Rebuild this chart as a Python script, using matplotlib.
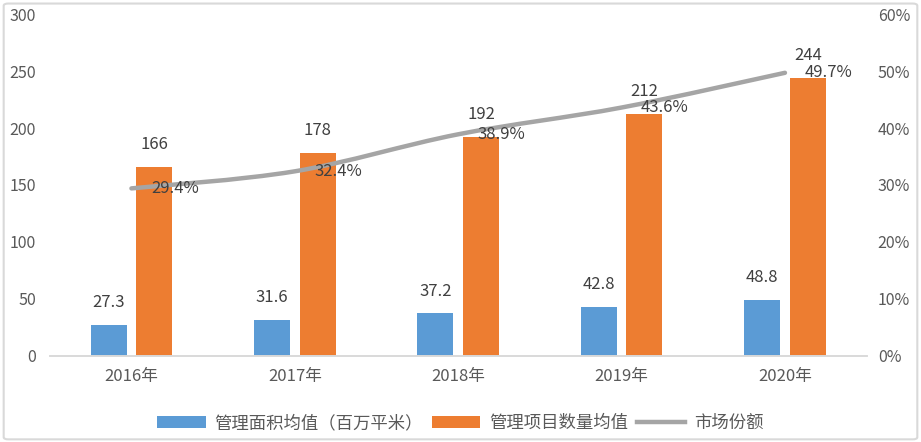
import matplotlib.pyplot as plt
from matplotlib.path import Path
from matplotlib.patches import PathPatch, FancyBboxPatch
import numpy as np

plt.rcParams['font.family'] = ['Noto Sans CJK SC', 'DejaVu Sans']

years = ['2016年', '2017年', '2018年', '2019年', '2020年']
area_avg = [27.3, 31.6, 37.2, 42.8, 48.8]
project_avg = [166, 178, 192, 212, 244]
market_share = [29.4, 32.4, 38.9, 43.6, 49.7]

BLUE = '#5B9BD5'
ORANGE = '#ED7D31'
GREY = '#A5A5A5'
TXT = '#595959'


def smooth_path(xs, ys):
    # Catmull-Rom style bezier, like Excel's smoothed line
    pts = np.column_stack([xs, ys]).astype(float)
    verts = [pts[0]]
    codes = [Path.MOVETO]
    n = len(pts)
    for i in range(n - 1):
        p0 = pts[max(i - 1, 0)]
        p1 = pts[i]
        p2 = pts[i + 1]
        p3 = pts[min(i + 2, n - 1)]
        c1 = p1 + (p2 - p0) / 6
        c2 = p2 - (p3 - p1) / 6
        verts += [c1, c2, p2]
        codes += [Path.CURVE4] * 3
    return Path(verts, codes)


fig = plt.figure(figsize=(9.21, 4.42), dpi=100)
ax = fig.add_axes([0.054, 0.195, 0.887, 0.773])
ax2 = ax.twinx()

x = np.arange(len(years))
w = 0.22
off = 0.14
b1 = ax.bar(x - off, area_avg, w, color=BLUE, label='管理面积均值（百万平米）')
b2 = ax.bar(x + off, project_avg, w, color=ORANGE, label='管理项目数量均值')

for xi, v in zip(x - off, area_avg):
    ax.annotate(f'{v}', (xi, v), xytext=(0, 10), textcoords='offset points',
                ha='center', va='bottom', fontsize=12, color='#404040')
for xi, v in zip(x + off, project_avg):
    ax.annotate(f'{v}', (xi, v), xytext=(0, 10), textcoords='offset points',
                ha='center', va='bottom', fontsize=12, color='#404040')

ax.set_xlim(-0.5, len(years) - 0.5)
ax.set_ylim(0, 300)
ax.set_yticks(range(0, 301, 50))
ax.set_xticks(x)
ax.set_xticklabels(years)

ax2.set_ylim(0, 60)
ax2.set_yticks(range(0, 61, 10))
ax2.set_yticklabels([f'{t}%' for t in range(0, 61, 10)])

line_patch = PathPatch(smooth_path(x, market_share), facecolor='none',
                       edgecolor=GREY, lw=3.2, capstyle='round', zorder=3)
ax2.add_patch(line_patch)
line_handle, = ax2.plot([], [], color=GREY, lw=3.2, label='市场份额')
for xi, v in zip(x, market_share):
    ax2.annotate(f'{v}%', (xi, v), xytext=(14, 0), textcoords='offset points',
                 ha='left', va='center', fontsize=12, color='#404040')

for a in (ax, ax2):
    for s in ('top', 'left', 'right'):
        a.spines[s].set_visible(False)
    a.spines['bottom'].set_color('#D9D9D9')
    a.spines['bottom'].set_linewidth(1.2)
    a.tick_params(length=0, labelsize=11.5, colors=TXT)
ax.tick_params(axis='y', pad=10)
ax2.tick_params(axis='y', pad=8)
ax.tick_params(axis='x', pad=9, labelsize=12)

fig.legend(handles=[b1, b2, line_handle], loc='center', bbox_to_anchor=(0.5, 0.043),
           ncol=3, frameon=False, fontsize=12.5, handlelength=2.8,
           handletextpad=0.5, columnspacing=0.5, labelcolor=TXT)

border = FancyBboxPatch((0.004, 0.006), 0.992, 0.986, boxstyle='round,pad=0,rounding_size=0.005',
                        transform=fig.transFigure, fill=False, edgecolor='#D9D9D9', lw=1.5)
fig.patches.append(border)

fig.savefig('out.png', dpi=100)
